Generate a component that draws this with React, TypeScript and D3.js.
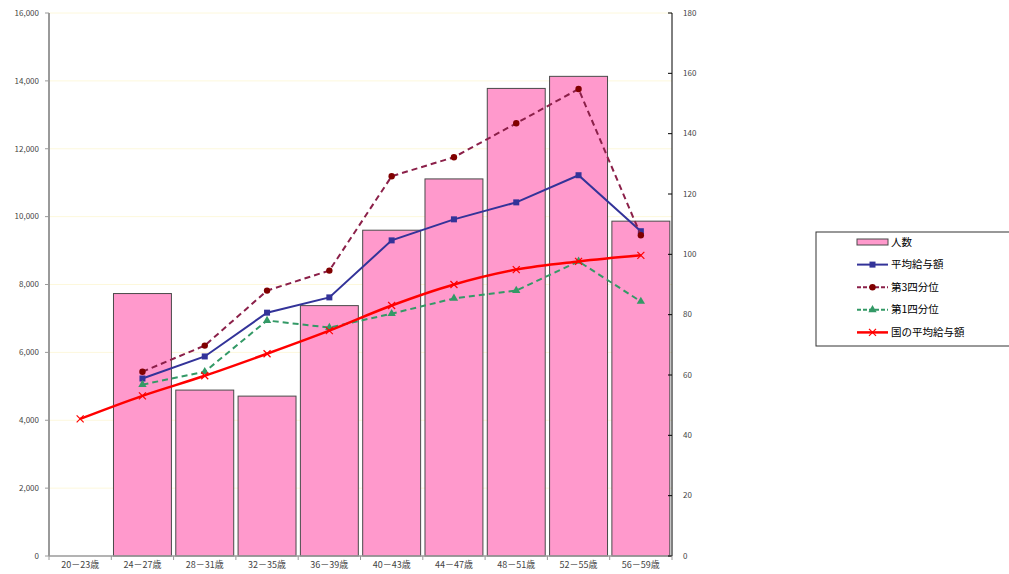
import React from 'react';
import * as d3 from 'd3';

const categories = ['20－23歳', '24－27歳', '28－31歳', '32－35歳', '36－39歳', '40－43歳', '44－47歳', '48－51歳', '52－55歳', '56－59歳'];

// 人数 (right axis)
const headcount = [0, 87, 55, 53, 83, 108, 125, 155, 159, 111];

// salaries (left axis), null = no point
const avgPay = [null, 5230, 5880, 7170, 7620, 9300, 9920, 10420, 11220, 9570];
const thirdQuartile = [null, 5430, 6200, 7820, 8410, 11190, 11750, 12750, 13760, 9450];
const firstQuartile = [null, 5050, 5430, 6940, 6730, 7140, 7590, 7820, 8680, 7500];
const nationalAvg = [4040, 4720, 5310, 5960, 6640, 7380, 8000, 8440, 8680, 8860];

const leftTicks = [0, 2000, 4000, 6000, 8000, 10000, 12000, 14000, 16000];
const rightTicks = [0, 20, 40, 60, 80, 100, 120, 140, 160, 180];

const FONT = '"Noto Sans CJK JP", "Noto Sans", sans-serif';

const App = () => {
    const W = 1009, H = 574;
    const left = 49, right = 672, top = 13, bottom = 556;

    const x = d3.scaleBand().domain(categories).range([left, right]).paddingInner(0.07).paddingOuter(0.035);
    const xc = (i: number) => x(categories[i])! + x.bandwidth() / 2;
    const yL = d3.scaleLinear().domain([0, 16000]).range([bottom, top]);
    const yR = d3.scaleLinear().domain([0, 180]).range([bottom, top]);
    const step = (right - left) / categories.length;

    const mkLine = (vals: (number | null)[], curve = d3.curveLinear) =>
        d3.line<number | null>()
            .defined(v => v != null)
            .x((_, i) => xc(i))
            .y(v => yL(v as number))
            .curve(curve)(vals) || '';

    const series = [
        { label: '平均給与額', vals: avgPay, color: '#333399', dash: null, marker: 'square', width: 2 },
        { label: '第3四分位', vals: thirdQuartile, color: '#8b2049', dash: '6,4', marker: 'circle', width: 2 },
        { label: '第1四分位', vals: firstQuartile, color: '#339966', dash: '6,4', marker: 'triangle', width: 2 },
        { label: '国の平均給与額', vals: nationalAvg, color: '#ff0000', dash: null, marker: 'x', width: 2.5 },
    ];

    const marker = (kind: string, cx: number, cy: number, color: string, key: string) => {
        if (kind === 'square') return <rect key={key} x={cx - 3} y={cy - 3} width={6} height={6} fill={color} />;
        if (kind === 'circle') return <circle key={key} cx={cx} cy={cy} r={3.2} fill="#800000" />;
        if (kind === 'triangle') return <path key={key} d={d3.symbol(d3.symbolTriangle, 30)()!} transform={`translate(${cx},${cy})`} fill={color} />;
        return (
            <g key={key} stroke={color} strokeWidth={1.2}>
                <line x1={cx - 3.5} y1={cy - 3.5} x2={cx + 3.5} y2={cy + 3.5} />
                <line x1={cx - 3.5} y1={cy + 3.5} x2={cx + 3.5} y2={cy - 3.5} />
            </g>
        );
    };

    const legendX = 816, legendY = 232;
    const rowY = (i: number) => legendY + 10 + i * 22.6;

    return (
        <div style={{ position: 'absolute', left: 0, top: 0 }}>
            <svg width={W} height={H} style={{ display: 'block', background: '#fff' }} fontFamily={FONT}>
                {/* gridlines */}
                {leftTicks.slice(1).map(t => (
                    <line key={t} x1={left} x2={right} y1={yL(t)} y2={yL(t)} stroke="#fdf8dc" strokeWidth={1} />
                ))}

                {/* bars */}
                {headcount.map((v, i) => v > 0 && (
                    <rect key={i} x={x(categories[i])} y={yR(v)} width={x.bandwidth()} height={bottom - yR(v)}
                        fill="#ff99cc" stroke="#4a4a4a" strokeWidth={1} />
                ))}

                {/* axes */}
                <line x1={left} x2={left} y1={top} y2={bottom} stroke="#9a9a9a" strokeWidth={2} />
                <line x1={right} x2={right} y1={top} y2={bottom} stroke="#000" strokeWidth={1} />
                <line x1={left} x2={right} y1={bottom} y2={bottom} stroke="#9a9a9a" strokeWidth={1.5} />
                {leftTicks.map(t => (
                    <g key={t}>
                        <line x1={left - 4} x2={left} y1={yL(t)} y2={yL(t)} stroke="#9a9a9a" />
                        <text x={39} y={yL(t)} dy="0.35em" textAnchor="end" fontSize={8} fill="#444">{d3.format(',')(t)}</text>
                    </g>
                ))}
                {rightTicks.map(t => (
                    <g key={t}>
                        <line x1={right - 4} x2={right} y1={yR(t)} y2={yR(t)} stroke="#000" />
                        <text x={683} y={yR(t)} dy="0.35em" fontSize={8} fill="#444">{t}</text>
                    </g>
                ))}
                {d3.range(categories.length + 1).map(i => (
                    <line key={i} x1={left + i * step} x2={left + i * step} y1={bottom} y2={bottom + 4} stroke="#9a9a9a" />
                ))}
                {categories.map((c, i) => (
                    <text key={c} x={xc(i)} y={568} textAnchor="middle" fontSize={9} fill="#444">{c}</text>
                ))}

                {/* lines */}
                {series.map(s => (
                    <g key={s.label}>
                        <path d={mkLine(s.vals, s.marker === 'x' ? d3.curveMonotoneX : d3.curveLinear)} fill="none"
                            stroke={s.color} strokeWidth={s.width} strokeDasharray={s.dash || undefined} />
                        {s.vals.map((v, i) => v != null && marker(s.marker, xc(i), yL(v), s.color, s.label + i))}
                    </g>
                ))}

                {/* legend */}
                <rect x={legendX} y={legendY} width={W - legendX + 5} height={114} fill="#fff" stroke="#333" strokeWidth={1} />
                <rect x={857} y={rowY(0) - 3} width={31} height={6} fill="#ff99cc" stroke="#4a4a4a" />
                <text x={891} y={rowY(0)} dy="0.35em" fontSize={10.5} fill="#000">人数</text>
                {series.map((s, k) => {
                    const yy = rowY(k + 1);
                    return (
                        <g key={s.label}>
                            <line x1={857} x2={888} y1={yy} y2={yy} stroke={s.color} strokeWidth={s.width} strokeDasharray={s.dash ? '4,2' : undefined} />
                            {marker(s.marker, 872.5, yy, s.color, 'lg' + k)}
                            <text x={891} y={yy} dy="0.35em" fontSize={10.5} fill="#000">{s.label}</text>
                        </g>
                    );
                })}
            </svg>
        </div>
    );
};

export default App;
